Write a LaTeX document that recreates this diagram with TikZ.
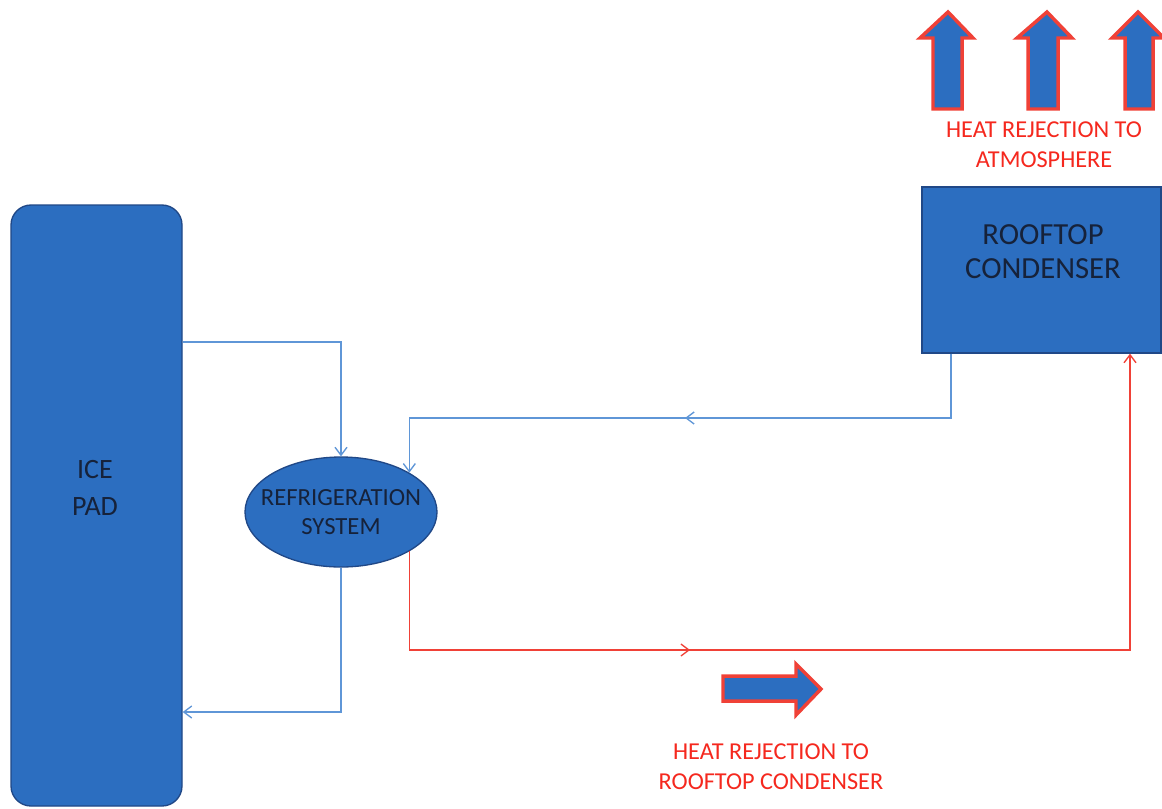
\documentclass[tikz,border=0pt]{standalone}
\usepackage{fontspec}
\setmainfont{Carlito}
\usetikzlibrary{arrows.meta,decorations.markings,shapes.geometric}
\definecolor{padblue}{RGB}{44,110,192}
\definecolor{edgeblue}{RGB}{32,72,135}
\definecolor{lineblue}{RGB}{95,150,215}
\definecolor{linered}{RGB}{240,65,55}
\definecolor{txtred}{RGB}{245,40,30}
\definecolor{txtdark}{RGB}{22,34,58}
\tikzset{
  padbox/.style={draw=edgeblue, line width=1pt, fill=padblue, rounded corners=15pt, inner sep=0pt},
  condbox/.style={draw=edgeblue, line width=1pt, fill=padblue, inner sep=0pt},
  refell/.style={ellipse, draw=edgeblue, line width=1pt, fill=padblue, inner sep=0pt,
                 minimum width=144pt, minimum height=82.5pt},
  darktxt/.style={text=txtdark, align=center},
  redtxt/.style={text=txtred, align=center, font=\fontsize{18.2}{22.5}\selectfont},
  conblue/.style={draw=lineblue, line width=1.1pt},
  conred/.style={draw=linered, line width=1.1pt},
  tipend/.style={-{Straight Barb[length=6pt,width=9pt,line width=1pt]}},
  midmark/.style={postaction={decorate}, decoration={markings,
     mark=at position #1 with {\arrow{Straight Barb[length=6pt,width=9pt,line width=1pt]}}}},
  fatarrow/.style={draw=linered, fill=padblue, line width=2.6pt, line join=miter},
}
\begin{document}
\begin{tikzpicture}[x=0.75pt,y=-0.75pt]
\useasboundingbox (0,0) rectangle (1162,808);
\fill[white] (0,0) rectangle (1162,808);

% main shapes
\node[padbox, minimum width=128.25pt, minimum height=450.75pt] (icepad) at (96.5,505.5) {};
\node[darktxt, font=\fontsize{21}{27.75}\selectfont] (icetxt) at (95,488) {ICE\\PAD};
\node[condbox, minimum width=179.25pt, minimum height=124.5pt] (cond) at (1041.5,270) {};
\node[darktxt, font=\fontsize{23}{25.5}\selectfont] (condtxt) at (1043,252) {ROOFTOP\\CONDENSER};
\node[refell] (ell) at (341,512) {};
\node[darktxt, font=\fontsize{18.5}{21.75}\selectfont] (elltxt) at (341,512) {REFRIGERATION\\SYSTEM};

% routing coordinates
\coordinate (c1) at (0,342);
\coordinate (k1) at (951,418);
\coordinate (r1) at (0,650);
\coordinate (r2) at (1130,0);
\coordinate (b1) at (0,712);

% connectors
\draw[conblue, tipend] (icepad.east |- c1) -| (ell.north);
\draw[conblue, tipend, midmark=0.5] (cond.south -| k1) -- (k1) -| (ell.north east);
\draw[conred, tipend, midmark=0.34] (ell.south east) -- (ell.south east |- r1) -- (r2 |- r1) -- (r2 |- cond.south);
\draw[conblue, tipend] (ell.south) -- (ell.south |- b1) -- (icepad.east |- b1);

% up arrows (heat rejection to atmosphere)
\draw[fatarrow] (948,12) -- (973,38) -- (962,38) -- (962,109) -- (933,109) -- (933,38) -- (920,38) -- cycle;
\draw[fatarrow] (1047,12) -- (1072,38) -- (1058,38) -- (1058,109) -- (1028,109) -- (1028,38) -- (1017,38) -- cycle;
\draw[fatarrow] (1138,12) -- (1164,38) -- (1153,38) -- (1153,109) -- (1125,109) -- (1125,38) -- (1112,38) -- cycle;
\node[redtxt] (toptxt) at (1044,145) {HEAT REJECTION TO\\ATMOSPHERE};

% right arrow (heat rejection to rooftop condenser)
\draw[fatarrow] (723,676) -- (796,676) -- (796,664) -- (821,689) -- (796,715) -- (796,701) -- (723,701) -- cycle;
\node[redtxt] (bottxt) at (771,767) {HEAT REJECTION TO\\ROOFTOP CONDENSER};
\end{tikzpicture}
\end{document}
